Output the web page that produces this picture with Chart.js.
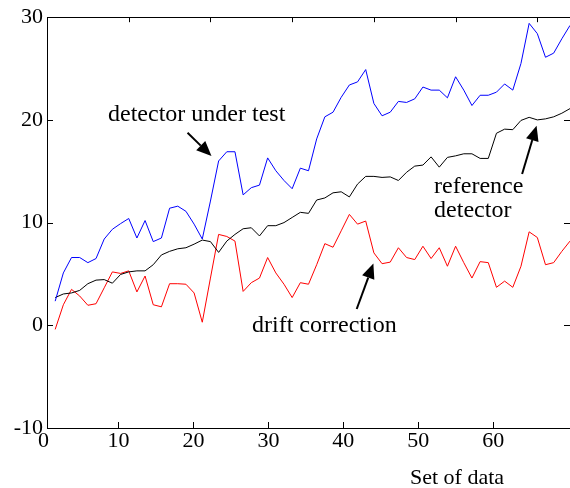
<!DOCTYPE html>
<html>
<head>
<meta charset="utf-8">
<title>Set of data</title>
<script src="https://cdn.jsdelivr.net/npm/chart.js@4.4.1/dist/chart.umd.min.js"></script>
<style>
  body { margin: 0; background: #fff; }
  canvas { display: block; }
</style>
</head>
<body>
<canvas id="chart" width="570" height="488"></canvas>
<script>
// set number 1..64
const setIndex = Array.from({ length: 64 }, (_, i) => i + 1);

const detectorUnderTest = [
  2.35, 5.1, 6.6, 6.6, 6.1, 6.5, 8.4, 9.35, 9.9, 10.4,
  8.5, 10.2, 8.15, 8.5, 11.4, 11.6, 11.1, 9.85, 8.4, 12.1,
  16.0, 16.9, 16.9, 12.7, 13.4, 13.65, 16.3, 15.05, 14.1, 13.3,
  15.3, 15.05, 18.15, 20.3, 20.75, 22.2, 23.4, 23.7, 24.9, 21.6,
  20.4, 20.75, 21.8, 21.7, 22.05, 23.2, 22.9, 22.9, 22.15, 24.2,
  22.9, 21.4, 22.4, 22.4, 22.7, 23.5, 22.9, 25.5, 29.4, 28.4,
  26.1, 26.5, 27.9, 29.2
];
const referenceDetector = [
  2.7, 3.05, 3.15, 3.4, 4.05, 4.4, 4.45, 4.1, 4.95, 5.2,
  5.3, 5.3, 5.9, 6.85, 7.2, 7.45, 7.55, 7.9, 8.3, 8.15,
  7.1, 8.2, 8.85, 9.4, 9.5, 8.7, 9.7, 9.7, 10.0, 10.5,
  11.0, 10.9, 12.2, 12.4, 12.9, 13.0, 12.5, 13.75, 14.5, 14.5,
  14.4, 14.45, 14.1, 14.9, 15.5, 15.6, 16.4, 15.4, 16.35, 16.5,
  16.7, 16.7, 16.25, 16.25, 18.7, 19.1, 19.05, 19.95, 20.25, 20.0,
  20.1, 20.3, 20.65, 21.1
];
const driftCorrection = [
  -0.4, 2.0, 3.5, 2.85, 1.95, 2.1, 3.65, 5.2, 5.05, 5.3,
  3.25, 4.8, 2.0, 1.8, 4.05, 4.05, 4.0, 3.15, 0.3, 4.6,
  8.85, 8.65, 8.2, 3.3, 4.15, 4.6, 6.6, 5.1, 4.0, 2.7,
  4.15, 4.0, 5.9, 7.95, 7.6, 9.2, 10.8, 9.85, 10.15, 7.05,
  6.0, 6.15, 7.55, 6.6, 6.4, 7.7, 6.5, 7.55, 5.75, 7.7,
  6.1, 4.6, 6.2, 6.1, 3.7, 4.3, 3.7, 5.75, 9.1, 8.55,
  5.9, 6.1, 7.2, 8.2
];

const yTicks = [-10, 0, 10, 20, 30];
const xTickLabels = [0, 10, 20, 30, 40, 50, 60];

const serif = "'Times New Roman', 'Liberation Serif', serif";

// text notes, placed in the units of the data axes (x top, y left)
const notes = [
  { text: 'detector under test', x: 7.47, y: 19.87, arrow: [17.2, 18.74, 20.13, 16.48] },
  { text: 'reference', x: 47.37, y: 12.88, arrow: [58.14, 14.73, 59.91, 19.44] },
  { text: 'detector', x: 47.37, y: 10.5 },
  { text: 'drift correction', x: 25.09, y: -0.68, arrow: [37.9, 1.59, 39.94, 6.02] }
];

function pts(values) {
  return values.map((v, i) => ({ x: setIndex[i], y: v }));
}

function drawArrow(ctx, x0, y0, x1, y1) {
  const ang = Math.atan2(y1 - y0, x1 - x0);
  const len = 15, half = 6.5;
  const bx = x1 - len * Math.cos(ang), by = y1 - len * Math.sin(ang);
  ctx.lineWidth = 2;
  ctx.beginPath();
  ctx.moveTo(x0, y0);
  ctx.lineTo(bx, by);
  ctx.stroke();
  ctx.beginPath();
  ctx.moveTo(x1, y1);
  ctx.lineTo(bx + half * Math.sin(ang), by - half * Math.cos(ang));
  ctx.lineTo(bx - half * Math.sin(ang), by + half * Math.cos(ang));
  ctx.closePath();
  ctx.fill();
}

// inward tick marks, notes with arrows, axis name
const frameAndNotes = {
  id: 'frameAndNotes',
  afterDraw(chart) {
    const ctx = chart.ctx;
    const { x, x2, y } = chart.scales;
    const a = chart.chartArea;
    ctx.save();
    ctx.strokeStyle = '#000';
    ctx.fillStyle = '#000';
    ctx.lineWidth = 1;
    ctx.beginPath();
    x.ticks.forEach(t => {
      const px = Math.round(x.getPixelForValue(t.value)) + 0.5;
      ctx.moveTo(px, a.top);
      ctx.lineTo(px, a.top + 5);
    });
    x2.ticks.forEach(t => {
      const px = Math.round(x2.getPixelForValue(t.value)) + 0.5;
      if (px < a.left) return;
      ctx.moveTo(px, a.bottom);
      ctx.lineTo(px, a.bottom - 6);
    });
    y.ticks.forEach(t => {
      const py = Math.round(y.getPixelForValue(t.value)) + 0.5;
      ctx.moveTo(a.left, py);
      ctx.lineTo(a.left + 6, py);
      ctx.moveTo(a.right, py);
      ctx.lineTo(a.right - 6, py);
    });
    ctx.stroke();

    ctx.font = '24px ' + serif;
    ctx.textAlign = 'left';
    ctx.textBaseline = 'alphabetic';
    notes.forEach(n => {
      ctx.fillText(n.text, x.getPixelForValue(n.x), y.getPixelForValue(n.y));
      if (n.arrow) {
        drawArrow(ctx,
          x.getPixelForValue(n.arrow[0]), y.getPixelForValue(n.arrow[1]),
          x.getPixelForValue(n.arrow[2]), y.getPixelForValue(n.arrow[3]));
      }
    });

    ctx.font = '22px ' + serif;
    ctx.fillText('Set of data', 410, 484);
    ctx.restore();
  }
};

new Chart(document.getElementById('chart'), {
  type: 'line',
  data: {
    datasets: [
      { label: 'detector under test', data: pts(detectorUnderTest), borderColor: '#0000ff' },
      { label: 'reference detector', data: pts(referenceDetector), borderColor: '#000000' },
      { label: 'drift correction', data: pts(driftCorrection), borderColor: '#ff0000' }
    ]
  },
  options: {
    responsive: false,
    animation: false,
    devicePixelRatio: 1,
    layout: { padding: 0 },
    elements: {
      line: { borderWidth: 1, tension: 0, fill: false },
      point: { radius: 0 }
    },
    plugins: { legend: { display: false }, tooltip: { enabled: false } },
    scales: {
      x: {
        type: 'linear', position: 'top', min: 0, max: 64,
        ticks: { display: false, stepSize: 10, includeBounds: false },
        grid: { display: false, drawTicks: false },
        border: { display: true, color: '#000', width: 1 },
        afterFit: s => { s.height = 15; }
      },
      x2: {
        type: 'linear', position: 'bottom', min: 0.467, max: 70.23,
        afterBuildTicks: s => { s.ticks = xTickLabels.map(v => ({ value: v })); },
        ticks: { color: '#000', font: { family: serif, size: 22 }, padding: 0, maxRotation: 0, autoSkip: false },
        grid: { display: false, drawTicks: false },
        border: { display: true, color: '#000', width: 1 },
        afterFit: s => { s.height = 60; }
      },
      y: {
        min: -10, max: 30,
        afterBuildTicks: s => { s.ticks = yTicks.map(v => ({ value: v })); },
        ticks: { color: '#000', font: { family: serif, size: 22 }, padding: 4 },
        grid: { display: false, drawTicks: false },
        border: { display: true, color: '#000', width: 1 },
        afterFit: s => { s.width = 47; }
      }
    }
  },
  plugins: [frameAndNotes]
});
</script>
</body>
</html>
